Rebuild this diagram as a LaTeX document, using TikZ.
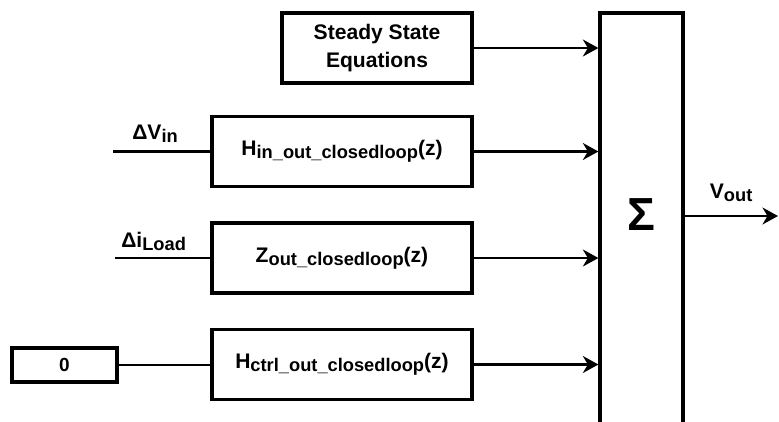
\documentclass[tikz,border=0pt]{standalone}
\usepackage{fontspec}
\setmainfont{Liberation Sans}
\usetikzlibrary{arrows.meta,positioning}

% subscript that stays almost full size, as in the block labels
\newcommand{\lsub}[1]{\raisebox{-0.3ex}{\fontsize{13}{15}\selectfont #1}}

\begin{document}
\begin{tikzpicture}[
    block/.style={draw, line width=2.3pt, minimum width=6.5cm, minimum height=1.75cm, inner sep=0pt,
                  align=center, font=\bfseries\fontsize{15}{20}\selectfont},
    wire/.style={line width=1.7pt},
    flow/.style={wire, -{Stealth[length=11pt,width=12pt,inset=3.5pt]}},
    siglabel/.style={inner sep=0pt, font=\bfseries\fontsize{15}{18}\selectfont}
]
    \useasboundingbox (0,0) rectangle (19.475,-10.525);

    % Summing block (runs off the bottom)
    \node[draw, line width=2.3pt, minimum width=2.075cm, minimum height=11.175cm] (sum) at (16.0375,-5.9125) {};
    \node[font=\bfseries\fontsize{33}{36}\selectfont] (sigma) at (16.0375,-5.375) {Σ};

    % Blocks
    \node[block, minimum width=4.75cm] (sse) at (9.425,-1.2) {Steady State\\Equations};
    \node[block] (hin) at (8.55,-3.7875) {H\lsub{in\_out\_closedloop}(z)};
    \node[block] (zout) at (8.55,-6.45) {Z\lsub{out\_closedloop}(z)};
    \node[block] (hctrl) at (8.55,-9.1125) {H\lsub{ctrl\_out\_closedloop}(z)};
    \node[draw, line width=2.3pt, minimum width=2.625cm, minimum height=0.85cm,
          font=\bfseries\fontsize{13.5}{15}\selectfont] (zero) at (1.6125,-9.125) {0};

    % Inputs
    \coordinate (vin) at (2.825,-3.7875);
    \coordinate (iload) at (2.875,-6.45);
    \draw[wire] (vin) -- (hin);
    \draw[wire] (iload) -- (zout);
    \draw[wire] (zero.east) -- (zero.east -| hctrl.west);
    \node[siglabel, above right=0.22cm and 0.475cm of vin] (vinlabel) {ΔV\lsub{in}};
    \node[siglabel, above right=0.18cm and 0.15cm of iload] (iloadlabel) {Δi\lsub{Load}};

    % Into the sum
    \draw[flow] (sse.east) -- (sse.east -| sum.west);
    \draw[flow] (hin.east) -- (hin.east -| sum.west);
    \draw[flow] (zout.east) -- (zout.east -| sum.west);
    \draw[flow] (hctrl.east) -- (hctrl.east -| sum.west);

    % Output
    \coordinate (out) at (19.45,-5.4);
    \coordinate (sumout) at (sum.east |- out);
    \draw[flow] (sumout) -- (out);
    \node[siglabel, above right=0.35cm and 0.625cm of sumout] (voutlabel) {V\lsub{out}};
\end{tikzpicture}
\end{document}
